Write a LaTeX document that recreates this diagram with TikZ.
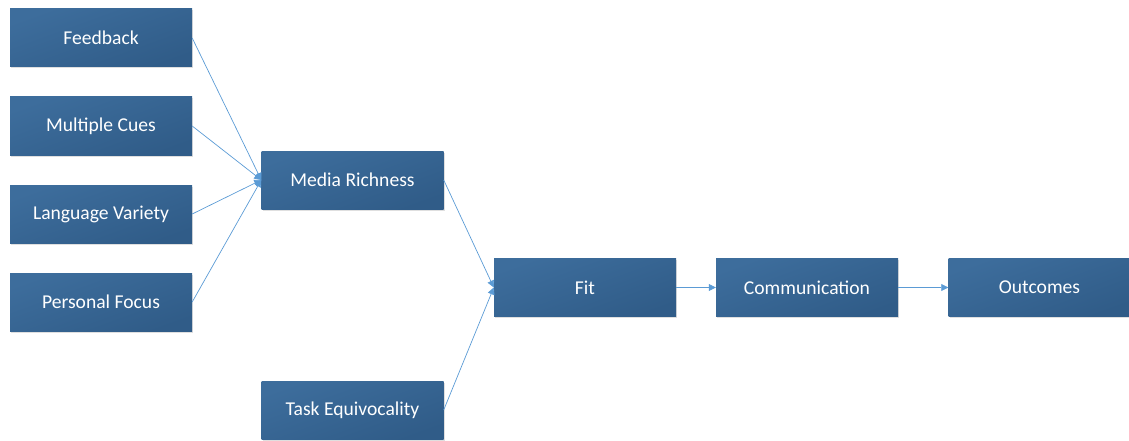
\documentclass[tikz,border=0pt]{standalone}
\usepackage{fontspec}
\setmainfont{Carlito}
\usetikzlibrary{arrows.meta,shadows}
\definecolor{boxlight}{HTML}{3D6D9C}
\definecolor{boxdark}{HTML}{305C88}
\definecolor{linkblue}{HTML}{5B9BD5}
\begin{document}
\begin{tikzpicture}[x=1pt,y=-1pt,
  box/.style={rectangle, minimum width=182pt, minimum height=58pt, inner sep=0pt,
    top color=boxlight, bottom color=boxdark, shading angle=20,
    drop shadow={shadow xshift=1pt, shadow yshift=-1.5pt, opacity=0.25},
    text=white, font=\fontsize{19.6}{22}\selectfont},
  link/.style={draw=linkblue, line width=0.7pt, -{Triangle[length=7pt,width=7pt]}}]
\useasboundingbox (0,0) rectangle (1129,441);
% input dimensions
\node[box] (fb) at (101,38) {Feedback};
\node[box] (mc) at (101,126) {Multiple Cues};
\node[box] (lv) at (101,214) {Language Variety};
\node[box] (pf) at (101,302) {Personal Focus};
% intermediate constructs
\node[box] (mr) at (352.5,180) {Media Richness};
\node[box] (te) at (352.5,410) {Task Equivocality};
% chain of effects
\node[box] (fit) at (585,287.5) {Fit};
\node[box] (com) at (807,287.5) {Communication};
\node[box] (out) at (1039.5,287.5) {Outcomes};
% connectors
\foreach \s in {fb,mc,lv,pf} \draw[link] (\s.east) -- (mr.west);
\draw[link] (mr.east) -- (fit.west);
\draw[link] (te.east) -- (fit.west);
\draw[link] (fit.east) -- (com.west);
\draw[link] (com.east) -- (out.west);
\end{tikzpicture}
\end{document}
